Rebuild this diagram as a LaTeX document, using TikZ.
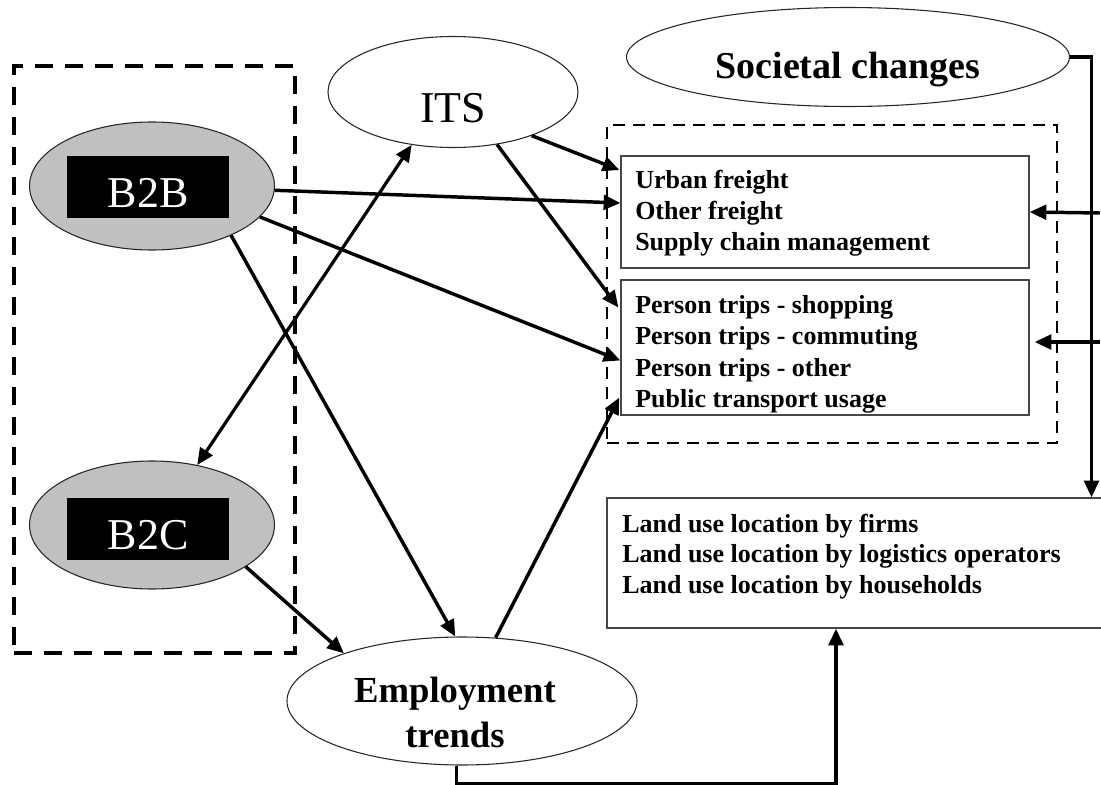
\documentclass[tikz,border=0pt]{standalone}
\usepackage{fontspec}
\setmainfont{Liberation Serif}
\usetikzlibrary{arrows.meta,shapes.geometric,calc}
\definecolor{ovalgrey}{RGB}{192,192,192}
\definecolor{boxline}{RGB}{70,70,70}
\tikzset{
  oval/.style={ellipse, draw=black!85, line width=0.8pt, inner sep=0pt},
  tag/.style={fill=black, text=white, inner sep=0pt,
    minimum width=121.5pt, minimum height=46.5pt,
    text height=30pt, text depth=0pt,
    font=\fontsize{33pt}{33pt}\selectfont},
  listbox/.style={draw=boxline, line width=1pt, inner sep=0pt, fill=white},
  groupL/.style={draw, line width=2.8pt, dash pattern=on 13.5pt off 9pt,
    inner sep=0pt, minimum width=210.75pt, minimum height=440.25pt},
  groupR/.style={draw, line width=1.6pt, dash pattern=on 9pt off 6pt,
    inner sep=0pt, minimum width=337.5pt, minimum height=238.5pt},
  item/.style={anchor=base west, inner sep=0pt,
    font=\bfseries\fontsize{19.5pt}{23pt}\selectfont},
  tip/.style={Triangle[length=12.5pt,width=11pt]},
  arr/.style={-{Triangle[length=12.5pt,width=11pt]}, line width=2.6pt},
  biarr/.style={{Triangle[length=12.5pt,width=11pt]}-{Triangle[length=12.5pt,width=11pt]}, line width=2.4pt},
}
\begin{document}
\begin{tikzpicture}[x=0.75pt,y=-0.75pt]
\path[use as bounding box] (0,0) rectangle (1101,785);
\clip (0,0) rectangle (1101,785);

% dashed groupings
\node[groupL] (grpL) at (154.5,359.5) {};
\node[groupR] (grpR) at (832,284) {};

% e-commerce ovals
\node[oval, fill=ovalgrey, minimum width=183.75pt, minimum height=96pt] (b2b) at (152,186) {};
\node[tag] (b2btag) at (148,187) {B2B};
\node[oval, fill=ovalgrey, minimum width=183.75pt, minimum height=96pt] (b2c) at (152,525) {};
\node[tag] (b2ctag) at (148,529) {B2C};

% driver ovals
\node[oval, minimum width=187.5pt, minimum height=83.25pt,
      text height=45pt, text depth=0pt,
      font=\fontsize{33pt}{33pt}\selectfont] (its) at (453,92) {ITS};
\node[oval, minimum width=332.25pt, minimum height=74.25pt,
      text height=31.5pt, text depth=0pt,
      font=\bfseries\fontsize{28.5pt}{28.5pt}\selectfont] (soc) at (848,57) {Societal changes};
\node[oval, minimum width=262.5pt, minimum height=96pt] (emp) at (462,701) {};
\node[anchor=base, inner sep=0pt, font=\bfseries\fontsize{27.5pt}{27.5pt}\selectfont] (empA) at (455,702) {Employment};
\node[anchor=base, inner sep=0pt, font=\bfseries\fontsize{27.5pt}{27.5pt}\selectfont] (empB) at (455,747) {trends};

% impact boxes
\node[listbox, minimum width=306pt, minimum height=84pt] (fr) at (825,212) {};
\node[item] (fr1) at (635,188) {Urban freight};
\node[item] (fr2) at (635,219) {Other freight};
\node[item] (fr3) at (635,250) {Supply chain management};

\node[listbox, minimum width=306pt, minimum height=101.25pt] (pt) at (825,347.5) {};
\node[item] (pt1) at (635,313) {Person trips - shopping};
\node[item] (pt2) at (635,344) {Person trips - commuting};
\node[item] (pt3) at (635,376) {Person trips - other};
\node[item] (pt4) at (635,407) {Public transport usage};

\node[listbox, minimum width=372.75pt, minimum height=97.5pt] (lu) at (855.5,563) {};
\node[item] (lu1) at (622,532) {Land use location by firms};
\node[item] (lu2) at (622,562) {Land use location by logistics operators};
\node[item] (lu3) at (622,593) {Land use location by households};

% entry points of the feedback arrows at the right margin
\coordinate (rf) at (1100,213);
\coordinate (rp) at (1100,342);

% connectors
\draw[arr] (b2b.-2) -- ($(fr.west)+(0,-9)$);
\draw[arr] (its.-29) -- ($(fr.west)+(-1,-42)$);
\draw[arr] (its.-50) -- ($(pt.west)+(-2,-40)$);
\draw[arr] (b2b.-16) -- ($(pt.west)+(0,13)$);
\draw[arr] (b2b.-32) -- (emp.96);
\draw[biarr] (its.232) -- (b2c.53);
\draw[arr] (b2c.-24) -- (emp.158);
\draw[arr] (emp.62) -- ($(pt.west)+(-1,50)$);
\draw[arr] (emp.-95) -- ++(0,18) -| ($(lu.south)+(-19.5,0)$);
\draw[arr] (soc.east) -| ($(lu.north)+(236,0)$);
\draw[arr] (rf) -- (fr.east);
\draw[arr] (rp) -- ($(pt.east)+(5,-5.5)$);
\end{tikzpicture}
\end{document}
